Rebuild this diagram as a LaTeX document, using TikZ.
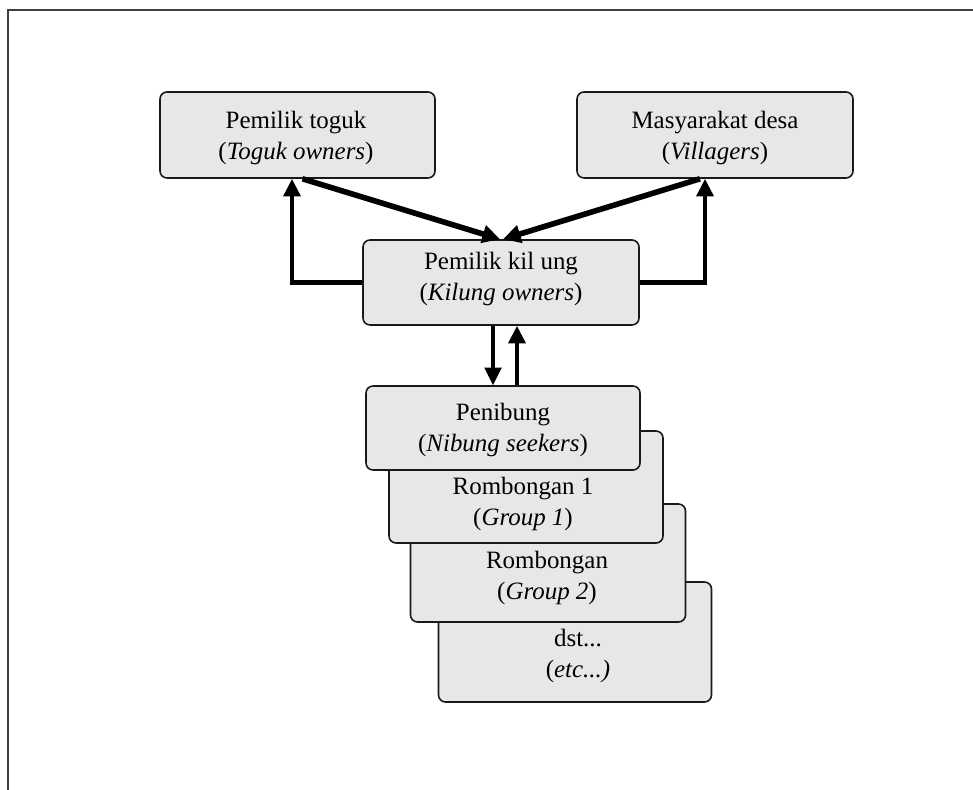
\documentclass[tikz,border=0pt]{standalone}
\usepackage{fontspec}
\setmainfont{Liberation Serif}
\usepackage{tikz}
\usetikzlibrary{arrows.meta,calc,positioning}

\definecolor{boxgray}{RGB}{230,231,232}

\tikzset{
    actor/.style={draw=black!90, line width=0.9pt, fill=boxgray, rounded corners=4pt,
        align=center, inner sep=0pt},
    words/.style={align=center, inner sep=0pt},
    fat/.style={line width=3.2pt, -{Triangle[length=10pt,width=10pt]}},
    elbow/.style={line width=2.4pt, -{Triangle[length=10pt,width=9.5pt]}},
    slim/.style={line width=1.8pt, -{Triangle[length=10pt,width=9.5pt]}},
}

\begin{document}
\begin{tikzpicture}[x=0.02cm, y=-0.02cm, >=Triangle,
    font=\fontsize{14.2}{18.2}\selectfont]

    %% Background
    \useasboundingbox (0,0) rectangle (973,790);
    \draw[line width=1.3pt, black!75] (973,10) -- (8,10) -- (8,790);

    % Top actors
    \node[actor, minimum width=275*0.02cm, minimum height=86*0.02cm] (toguk) at (297.5,135) {};
    \node[words] (toguktxt) at (296,138) {Pemilik toguk\\(\textit{Toguk owners})};
    \node[actor, minimum width=276*0.02cm, minimum height=86*0.02cm] (villagers) at (715,135) {};
    \node[words] (villagerstxt) at (715,138) {Masyarakat desa\\(\textit{Villagers})};

    % Kilung owners
    \node[actor, minimum width=276*0.02cm, minimum height=85*0.02cm] (kilung) at (501,282.5) {};
    \node[words] (kilungtxt) at (501,279) {Pemilik kil ung\\(\textit{Kilung owners})};

    % Stacked groups, back to front
    \node[actor, minimum width=273*0.02cm, minimum height=120*0.02cm] (etc) at (575,642) {};
    \node[words] (etctxt) at (578,656) {dst...\\(\textit{etc...)}};
    \node[actor, minimum width=275*0.02cm, minimum height=118*0.02cm] (grp2) at (548,563) {};
    \node[words] (grp2txt) at (547,578) {Rombongan\\(\textit{Group 2})};
    \node[actor, minimum width=274*0.02cm, minimum height=112*0.02cm] (grp1) at (526,487) {};
    \node[words] (grp1txt) at (523,504) {Rombongan 1\\(\textit{Group 1})};
    \node[actor, minimum width=274*0.02cm, minimum height=84*0.02cm] (penibung) at (503,428) {};
    \node[words] (penibungtxt) at (503,430) {Penibung\\(\textit{Nibung seekers})};

    % Flows to kilung owners
    \draw[fat] ([xshift=0.1cm]toguk.south) -- ([xshift=-0.02cm]kilung.north);
    \draw[fat] ([xshift=-0.3cm]villagers.south) -- ([xshift=0.04cm]kilung.north);

    % Flows back up
    \draw[elbow] (kilung.west) -| ([xshift=-0.11cm]toguk.south);
    \draw[elbow] (kilung.east) -| ([xshift=-0.2cm]villagers.south);

    % Kilung <-> penibung
    \draw[slim] ([xshift=-0.16cm]kilung.south) -- ([xshift=-0.16cm]kilung.south |- penibung.north);
    \draw[elbow] ([xshift=0.32cm]kilung.south |- penibung.north) -- ([xshift=0.32cm]kilung.south);

\end{tikzpicture}
\end{document}
